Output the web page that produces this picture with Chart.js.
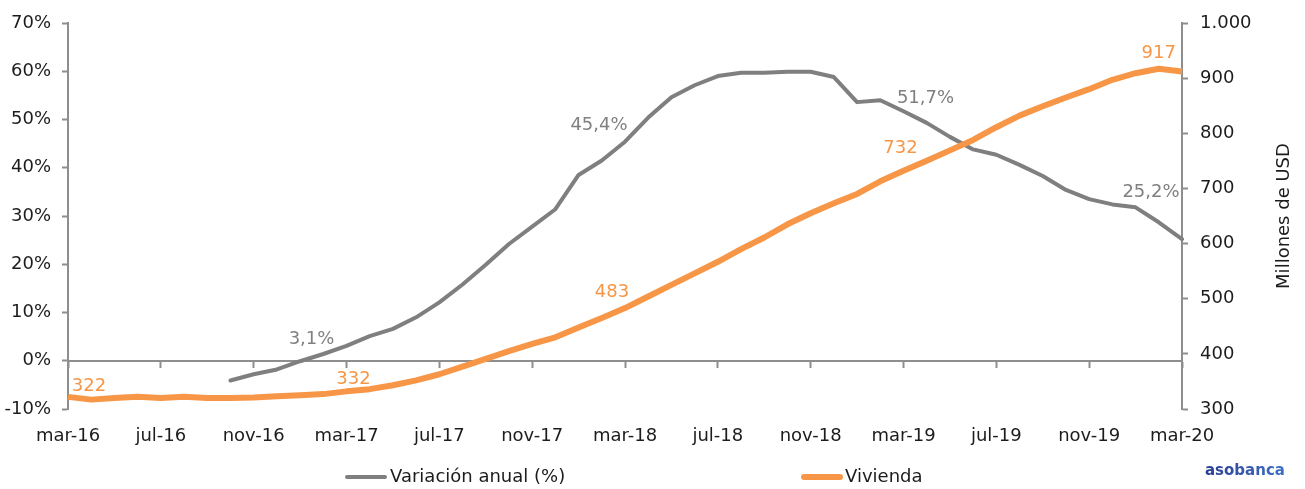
<!DOCTYPE html>
<html>
<head>
<meta charset="utf-8">
<title>Cartera de vivienda</title>
<script src="https://cdn.jsdelivr.net/npm/chart.js@4.4.1/dist/chart.umd.min.js"></script>
<style>
  html, body { margin: 0; padding: 0; background: #ffffff; }
  #wrap { width: 1305px; height: 489px; position: relative; }
</style>
</head>
<body>
<div id="wrap"><canvas id="grafico" width="1305" height="489"></canvas></div>
<script>
// Meses de la serie (mar-16 a mar-20)
const meses = [
  'mar-16','abr-16','may-16','jun-16','jul-16','ago-16','sep-16','oct-16','nov-16','dic-16','ene-17','feb-17',
  'mar-17','abr-17','may-17','jun-17','jul-17','ago-17','sep-17','oct-17','nov-17','dic-17','ene-18','feb-18',
  'mar-18','abr-18','may-18','jun-18','jul-18','ago-18','sep-18','oct-18','nov-18','dic-18','ene-19','feb-19',
  'mar-19','abr-19','may-19','jun-19','jul-19','ago-19','sep-19','oct-19','nov-19','dic-19','ene-20','feb-20',
  'mar-20'
];

// Variación anual de la cartera (%), eje izquierdo
const variacionAnual = [
  null, null, null, null, null, null, null, -4.1, -2.8, -1.8, -0.1, 1.4,
  3.1, 5.1, 6.6, 9.0, 12.1, 15.8, 19.9, 24.2, 27.8, 31.4, 38.5, 41.5,
  45.4, 50.4, 54.6, 57.1, 59.0, 59.7, 59.7, 59.9, 59.9, 58.8, 53.6, 54.0,
  51.7, 49.3, 46.4, 43.8, 42.7, 40.6, 38.3, 35.4, 33.5, 32.4, 31.8, 28.7,
  25.2
];

// Saldo de vivienda (millones de USD), eje derecho
const vivienda = [
  322, 317, 320, 322, 320, 322, 320, 320, 321, 323, 325, 327,
  332, 336, 343, 352, 363, 377, 391, 405, 418, 430, 448, 465,
  483, 504, 525, 546, 567, 590, 611, 635, 655, 673, 690, 713,
  732, 750, 769, 788, 811, 832, 849, 865, 880, 897, 909, 917,
  912
];

// Ticks de los ejes
const ticksIzquierda = [-10, 0, 10, 20, 30, 40, 50, 60, 70];
const ticksDerecha = [300, 400, 500, 600, 700, 800, 900, 1000];
const pasoEtiquetasX = 4;

// Puntos con etiqueta de valor (índices de mes)
const rotuladosVariacion = [12, 24, 36, 48];
const rotuladosVivienda = [0, 12, 24, 36, 47];

// Desplazamiento de cada etiqueta respecto a su punto (px)
const desplazVariacion = [[-35, -6], [-26, -16], [22, -13], [-31, -47]];
const desplazVivienda = [[21, -11], [7, -12], [-13, -16], [-3, -22], [0, -15]];

const FUENTE = "'DejaVu Sans', sans-serif";
const GRIS = '#7f7f7f';
const NARANJA = '#f79646';
const EJE = '#8e8e8e';
const TEXTO = '#1c1c1c';

const formatoMiles = v => String(v).replace(/\B(?=(\d{3})+(?!\d))/g, '.');
const formatoPct = v => v.toFixed(1).replace('.', ',') + '%';

// Etiquetas de valor sobre las líneas
const etiquetasValor = {
  id: 'etiquetasValor',
  afterDatasetsDraw(chart) {
    const ctx = chart.ctx;
    ctx.save();
    ctx.font = '18px ' + FUENTE;
    ctx.textAlign = 'center';
    ctx.textBaseline = 'middle';
    const grupos = [
      { ds: 0, idx: rotuladosVariacion, off: desplazVariacion, fmt: formatoPct, color: '#808080' },
      { ds: 1, idx: rotuladosVivienda, off: desplazVivienda, fmt: v => String(v), color: NARANJA }
    ];
    grupos.forEach(g => {
      const meta = chart.getDatasetMeta(g.ds);
      const valores = chart.data.datasets[g.ds].data;
      ctx.fillStyle = g.color;
      g.idx.forEach((i, k) => {
        const p = meta.data[i];
        ctx.fillText(g.fmt(valores[i]), p.x + g.off[k][0], p.y + g.off[k][1]);
      });
    });
    ctx.restore();
  }
};

// Título vertical del eje derecho, leyenda inferior y logotipo
const decoracion = {
  id: 'decoracion',
  afterDraw(chart) {
    const ctx = chart.ctx;
    const area = chart.chartArea;
    const y1 = chart.scales.y1;
    ctx.save();
    // título del eje derecho
    ctx.font = '18px ' + FUENTE;
    ctx.fillStyle = TEXTO;
    ctx.textAlign = 'center';
    ctx.textBaseline = 'middle';
    ctx.translate(y1.right - 21, (area.top + area.bottom) / 2);
    ctx.rotate(-Math.PI / 2);
    ctx.fillText('Millones de USD', 0, 0);
    ctx.restore();

    // leyenda
    ctx.save();
    const yLeyenda = 477;
    const items = [{ x: 345, ancho: 42 }, { x: 802, ancho: 40 }];
    chart.data.datasets.forEach((ds, i) => {
      const it = items[i];
      ctx.strokeStyle = ds.borderColor;
      ctx.lineWidth = ds.borderWidth;
      ctx.lineCap = 'round';
      ctx.beginPath();
      ctx.moveTo(it.x + 2, yLeyenda);
      ctx.lineTo(it.x + it.ancho - 2, yLeyenda);
      ctx.stroke();
      ctx.font = '18px ' + FUENTE;
      ctx.fillStyle = TEXTO;
      ctx.textAlign = 'left';
      ctx.textBaseline = 'middle';
      ctx.fillText(ds.label, it.x + it.ancho + 3, yLeyenda);
    });

    // logotipo
    const grad = ctx.createLinearGradient(1205, 0, 1290, 0);
    grad.addColorStop(0, '#2b3f93');
    grad.addColorStop(1, '#3f74c9');
    ctx.fillStyle = grad;
    ctx.font = 'bold 15px ' + FUENTE;
    ctx.textAlign = 'left';
    ctx.textBaseline = 'middle';
    ctx.fillText('asobanca', 1205, 471);
    ctx.restore();
  }
};

new Chart(document.getElementById('grafico'), {
  type: 'line',
  data: {
    labels: meses,
    datasets: [
      {
        label: 'Variación anual (%)',
        data: variacionAnual,
        yAxisID: 'y',
        borderColor: GRIS,
        backgroundColor: GRIS,
        borderWidth: 4,
        pointRadius: 0,
        tension: 0,
        borderJoinStyle: 'round',
        borderCapStyle: 'round',
        order: 1
      },
      {
        label: 'Vivienda',
        data: vivienda,
        yAxisID: 'y1',
        borderColor: NARANJA,
        backgroundColor: NARANJA,
        borderWidth: 6,
        pointRadius: 0,
        tension: 0,
        borderJoinStyle: 'round',
        borderCapStyle: 'butt',
        order: 0
      }
    ]
  },
  options: {
    responsive: false,
    devicePixelRatio: 1,
    animation: false,
    events: [],
    layout: { padding: { top: 23, left: 0, right: 0, bottom: 0 } },
    plugins: {
      legend: { display: false },
      tooltip: { enabled: false }
    },
    scales: {
      x: {
        type: 'category',
        position: 'bottom',
        offset: false,
        border: { display: false },
        grid: { display: false, drawTicks: false },
        ticks: {
          autoSkip: false,
          maxRotation: 0,
          minRotation: 0,
          padding: 17,
          color: TEXTO,
          font: { family: FUENTE, size: 18 },
          callback: function (v, i) { return i % pasoEtiquetasX === 0 ? meses[i] : null; }
        },
        afterFit: s => { s.height = 80; }
      },
      xCero: {
        type: 'category',
        position: { y: 0 },
        offset: false,
        border: { display: true, color: EJE, width: 2 },
        grid: {
          drawOnChartArea: false,
          drawTicks: true,
          tickLength: 6,
          tickWidth: 2,
          tickColor: c => (c.index % pasoEtiquetasX === 0 ? EJE : 'rgba(0,0,0,0)')
        },
        ticks: { display: false, autoSkip: false }
      },
      y: {
        type: 'linear',
        position: 'left',
        min: -10,
        max: 70,
        afterBuildTicks: s => { s.ticks = ticksIzquierda.map(v => ({ value: v })); },
        border: { display: true, color: EJE, width: 2 },
        grid: { drawOnChartArea: false, drawTicks: true, tickLength: 6, tickWidth: 2, color: EJE },
        ticks: {
          padding: 11,
          color: TEXTO,
          font: { family: FUENTE, size: 18 },
          callback: v => v + '%'
        },
        afterFit: s => { s.width = 68; }
      },
      y1: {
        type: 'linear',
        position: 'right',
        min: 300,
        max: 1000,
        afterBuildTicks: s => { s.ticks = ticksDerecha.map(v => ({ value: v })); },
        border: { display: true, color: EJE, width: 2 },
        grid: { drawOnChartArea: false, drawTicks: true, tickLength: 6, tickWidth: 2, color: EJE },
        ticks: {
          padding: 12,
          color: TEXTO,
          font: { family: FUENTE, size: 18 },
          callback: v => formatoMiles(v)
        },
        afterFit: s => { s.width = 123; }
      }
    }
  },
  plugins: [etiquetasValor, decoracion]
});
</script>
</body>
</html>
